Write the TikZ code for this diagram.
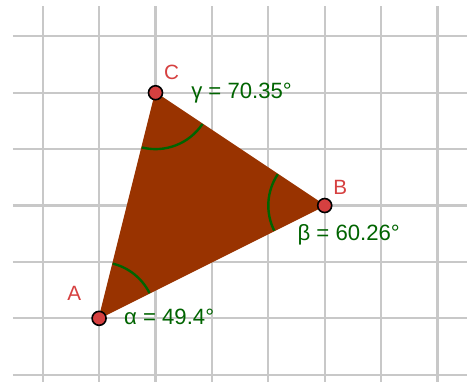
\documentclass[tikz,border=0pt]{standalone}
\usepackage{fontspec}
\setmainfont{Liberation Sans}
\usetikzlibrary{calc}
\definecolor{tribrown}{HTML}{993300}
\definecolor{anggreen}{HTML}{006400}
\definecolor{ptred}{HTML}{D64040}
\definecolor{gridgray}{HTML}{C8C8C8}
\begin{document}
\begin{tikzpicture}[x=42.3pt,y=42.3pt,
  gridline/.style={gridgray,line width=1.6pt},
  angarc/.style={anggreen,line width=1.8pt},
  ptdot/.style={circle,fill=ptred,draw=black,line width=1.2pt,minimum size=10.5pt,inner sep=0pt},
  ptlabel/.style={text=ptred,font=\fontsize{15.5pt}{18pt}\selectfont,inner sep=0pt,anchor=base},
  anglabel/.style={text=anggreen,font=\fontsize{16.6pt}{19pt}\selectfont,inner sep=0pt,anchor=base west}]
\useasboundingbox (-1.757,-1.129) rectangle (6.523,5.644);
\fill[white] (-1.757,-1.129) rectangle (6.523,5.644);
% grid
\foreach \i in {-1,...,6} \draw[gridline] (\i,5.537) -- (\i,-1.129);
\foreach \j in {-1,...,5} \draw[gridline] (-1.527,\j) -- (6.523,\j);
% vertices
\coordinate (A) at (0,0);
\coordinate (B) at (4,2);
\coordinate (C) at (1,4);
\fill[tribrown] (A) -- (B) -- (C) -- cycle;
\draw[tribrown,line width=0.8pt,line join=round] (A) -- (B) -- (C) -- cycle;
% angle arcs
\draw[angarc] ($(A)+(26.565:1)$) arc[start angle=26.565,end angle=75.964,radius=1];
\draw[angarc] ($(B)+(146.31:1)$) arc[start angle=146.31,end angle=206.565,radius=1];
\draw[angarc] ($(C)+(255.964:1)$) arc[start angle=255.964,end angle=326.31,radius=1];
% points
\node[ptdot] (pA) at (A) {};
\node[ptdot] (pB) at (B) {};
\node[ptdot] (pC) at (C) {};
% labels
\node[ptlabel] (lA) at (-0.440,0.312) {A};
\node[ptlabel] (lB) at (4.277,2.197) {B};
\node[ptlabel] (lC) at (1.284,4.243) {C};
\node[anglabel] (ga) at (1.630,3.901) {γ = 70.35°};
\node[anglabel] (be) at (3.515,1.379) {β = 60.26°};
\node[anglabel] (al) at (0.440,-0.106) {α = 49.4°};
\end{tikzpicture}
\end{document}
